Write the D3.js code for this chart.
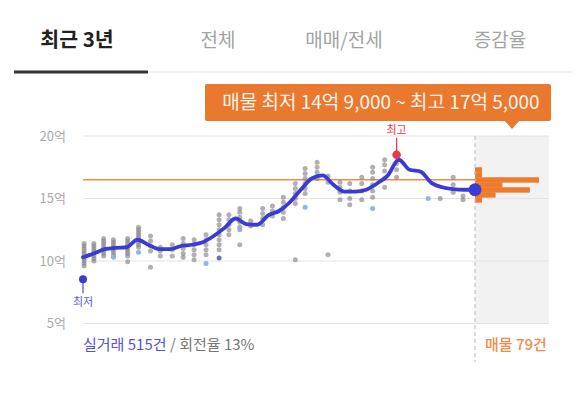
<!DOCTYPE html>
<html><head><meta charset="utf-8">
<script src="https://cdn.jsdelivr.net/npm/d3@7/dist/d3.min.js"></script>
<style>body{margin:0;background:#fff}svg{display:block;font-family:"Noto Sans CJK KR","Noto Sans",sans-serif}</style>
</head><body><svg id="c" width="586" height="398"></svg>
<script>
const tabs = ["최근 3년","전체","매매/전세","증감율"];
const yTicks = [5,10,15,20];
const yTickLabels = ["5억","10억","15억","20억"];
const avgMonths = d3.range(0,37);
const avgPrices = [10.3,10.6,10.95,11.05,11.1,11.7,11.3,10.95,10.95,11.2,11.3,11.5,12.0,12.65,13.4,12.95,12.9,13.65,14.0,14.7,15.7,16.6,16.85,16.1,15.55,15.55,15.7,16.2,16.85,18.1,17.3,17.15,16.25,15.9,15.75,15.7,15.7];
// trades: [month, price, type] type 0 gray, 1 light blue, 2 dark blue
const trades = [
[0.1,11.4,0],[0.1,11.2,0],[0.1,11.0,0],[0.1,10.8,0],[0.1,10.6,0],[0.1,10.4,0],[0.1,10.2,0],[0.1,10.0,0],[0.1,9.8,0],[0.1,9.6,0],
[1.0,11.4,0],[1.0,11.2,0],[1.0,11.0,0],[1.0,10.8,0],[1.0,10.6,0],[1.0,10.4,0],[1.0,10.2,0],[1.0,10.0,0],
[1.9,11.8,0],[1.9,11.6,0],[1.9,11.4,0],[1.9,11.2,0],[1.9,11.0,0],[1.9,10.8,0],[1.9,10.6,0],[1.9,10.4,0],
[2.8,11.7,0],[2.8,11.5,0],[2.8,11.3,0],[2.8,11.1,0],[2.8,10.9,0],[2.8,10.7,0],[2.8,10.5,0],[2.8,10.3,1],
[4.1,11.8,0],[4.1,11.6,0],[4.1,11.4,0],[4.1,11.2,0],[4.1,11.0,0],[4.1,10.8,0],[4.1,10.6,0],[4.1,10.4,0],[4.1,9.95,0],
[5.1,12.7,0],[5.1,12.5,0],[5.1,12.3,0],[5.1,12.1,0],[5.1,11.9,0],[5.1,11.7,0],[5.1,11.5,0],[5.1,11.3,0],[5.1,11.1,0],[5.1,10.7,1],
[6.2,12.0,0],[6.2,11.6,0],[6.2,11.2,0],[6.2,10.8,0],[6.2,9.5,0],
[7.1,11.1,0],[7.1,10.8,0],[7.1,10.4,0],
[8.2,11.3,0],[8.2,10.9,0],[8.2,10.4,0],
[9.2,11.8,0],[9.2,11.4,0],[9.2,11.0,0],[9.2,10.6,0],[9.2,10.3,0],
[10.2,11.7,0],[10.2,11.3,0],[10.2,10.9,0],[10.2,10.5,0],[10.2,10.1,0],
[11.3,12.1,0],[11.3,11.7,0],[11.3,11.3,0],[11.3,10.9,0],[11.3,10.5,0],[11.3,9.8,1],
[12.5,13.7,0],[12.5,13.3,0],[12.5,12.9,0],[12.5,12.5,0],[12.5,12.1,0],[12.5,11.7,0],[12.5,11.3,0],[12.5,10.9,0],[12.5,10.25,2],
[13.4,13.7,0],[13.4,13.3,0],[13.4,12.9,0],[13.4,12.5,0],[13.4,12.1,0],
[14.4,14.2,0],[14.4,13.9,0],[14.4,13.5,0],[14.4,13.1,0],[14.4,12.7,0],[14.4,11.3,0],[14.4,12.5,1],
[15.4,13.2,0],[15.4,12.8,0],
[16.5,14.2,0],[16.5,13.8,0],[16.5,13.4,0],[16.5,12.9,0],
[17.4,14.4,0],[17.4,14.0,0],[17.4,13.6,0],
[18.4,15.1,0],[18.4,14.7,0],[18.4,14.3,0],[18.4,13.9,0],[18.4,13.4,0],
[19.5,16.2,0],[19.5,15.8,0],[19.5,15.4,0],[19.5,15.0,0],[19.5,14.6,0],[19.5,10.1,0],
[20.4,17.4,0],[20.4,17.0,0],[20.4,16.6,0],[20.4,16.2,0],[20.4,15.8,0],[20.4,15.4,0],[20.4,14.3,1],
[21.5,17.9,0],[21.5,17.5,0],[21.5,17.1,0],[21.5,16.6,0],
[22.5,16.8,0],[22.5,16.3,0],[22.5,10.5,0],
[23.6,16.3,0],[23.6,15.9,0],[23.6,15.5,0],[23.6,14.9,0],
[24.5,16.2,0],[24.5,15.6,0],[24.5,15.0,0],[24.5,14.5,0],
[25.6,16.7,0],[25.6,16.2,0],[25.6,15.6,0],[25.6,14.9,0],
[26.6,17.5,0],[26.6,17.1,0],[26.6,16.6,0],[26.6,16.1,0],[26.6,15.6,0],[26.6,15.1,0],[26.6,14.2,1],
[27.7,18.1,0],[27.7,17.7,0],[27.7,17.2,0],[27.7,16.6,0],[27.7,15.9,0],
[28.8,17.8,0],[28.8,17.3,0],[28.8,16.7,0],
[31.7,15.0,1],[32.8,15.0,0],
[34.0,16.7,0],[34.0,16.1,0],[34.0,15.5,0],
[34.9,15.2,0],[34.9,14.9,0]
];
const minTrade = [0.0, 8.55];
const maxTrade = [28.8, 18.5];
const listingAvg = 16.5;
const binLows = [17.1,16.7,16.3,15.9,15.5,15.1,14.7];
const binCounts = [2,3,28,12,24,9,1];
const tooltipText = "매물 최저 14억 9,000 ~ 최고 17억 5,000";
const tradeText = "실거래 515건";
const turnoverText = " / 회전율 13%";
const listingText = "매물 79건";

const svg = d3.select("#c");
const x = d3.scaleLinear().domain([0,36]).range([83,475]);
const y = d3.scaleLinear().domain([5,20]).range([323.5,136]);
const hw = d3.scaleLinear().domain([0,28]).range([0,64]);

// tabs
const tabX = [77,218,344,500];
svg.selectAll("text.tab").data(tabs).join("text").attr("class","tab")
  .attr("x",(d,i)=>tabX[i]).attr("y",47).attr("text-anchor","middle")
  .attr("font-size",(d,i)=>i===0?20.5:19).attr("font-weight",(d,i)=>i===0?700:400)
  .attr("fill",(d,i)=>i===0?"#222":"#a3a3a3").text(d=>d);
svg.append("rect").attr("x",14).attr("y",71.5).attr("width",558).attr("height",1).attr("fill","#e6e6e6");
svg.append("rect").attr("x",14).attr("y",70.5).attr("width",134).attr("height",3).attr("fill","#333");

// gray forecast area
svg.append("rect").attr("x",x(36)).attr("y",y(20)).attr("width",549-x(36)).attr("height",y(5)-y(20)).attr("fill","#f2f2f2");

// gridlines
svg.selectAll("line.grid").data(yTicks).join("line").attr("class","grid")
  .attr("x1",83).attr("x2",549).attr("y1",d=>y(d)).attr("y2",d=>y(d))
  .attr("stroke","#e3e3e3").attr("stroke-width",1);
svg.selectAll("text.yl").data(yTicks).join("text").attr("class","yl")
  .attr("x",66).attr("y",d=>y(d)+4.5).attr("text-anchor","end")
  .attr("font-size",13).attr("fill","#aaa").text((d,i)=>yTickLabels[i]);

// histogram
svg.selectAll("rect.hb").data(binLows).join("rect").attr("class","hb")
  .attr("x",x(36)).attr("y",d=>y(d+0.4)).attr("width",(d,i)=>Math.max(7,hw(binCounts[i])))
  .attr("height",d=>y(d)-y(d+0.4)+0.4).attr("fill","#ee7a2b");

// dashed divider
svg.append("line").attr("x1",x(36)).attr("x2",x(36)).attr("y1",y(20)).attr("y2",362)
  .attr("stroke","#c4c4c4").attr("stroke-width",1.2).attr("stroke-dasharray","4,3");

// listing avg line
svg.append("line").attr("x1",83).attr("x2",x(36)).attr("y1",y(listingAvg)).attr("y2",y(listingAvg))
  .attr("stroke","#f0894a").attr("stroke-width",1.6);

// trades
const tc = ["#858585","#86aee0","#5569a0"];
svg.selectAll("circle.tr").data(trades).join("circle").attr("class","tr")
  .attr("cx",d=>x(d[0])).attr("cy",d=>y(d[1])).attr("r",2.5)
  .attr("fill",d=>tc[d[2]]).attr("fill-opacity",d=>d[2]===0?0.65:0.9);

// average line
const line = d3.line().x((d,i)=>x(avgMonths[i])).y(d=>y(d)).curve(d3.curveMonotoneX);
svg.append("path").datum(avgPrices).attr("d",line).attr("fill","none")
  .attr("stroke","#3a3ad6").attr("stroke-width",3.8).attr("stroke-linejoin","round").attr("stroke-linecap","round");
svg.append("circle").attr("cx",x(36)).attr("cy",y(avgPrices[36])).attr("r",6.5).attr("fill","#3a3ad6");

// min marker
svg.append("line").attr("x1",x(minTrade[0])).attr("x2",x(minTrade[0])).attr("y1",y(minTrade[1])).attr("y2",y(minTrade[1])+14)
  .attr("stroke","#5a5ad8").attr("stroke-width",1.3);
svg.append("circle").attr("cx",x(minTrade[0])).attr("cy",y(minTrade[1])).attr("r",4).attr("fill","#3a3ad6");
svg.append("text").attr("x",x(minTrade[0])).attr("y",y(minTrade[1])+27).attr("text-anchor","middle")
  .attr("font-size",11).attr("fill","#5a5ad8").text("최저");
// max marker
svg.append("line").attr("x1",x(maxTrade[0])).attr("x2",x(maxTrade[0])).attr("y1",y(maxTrade[1])).attr("y2",y(maxTrade[1])-17)
  .attr("stroke","#e8384f").attr("stroke-width",1.3);
svg.append("circle").attr("cx",x(maxTrade[0])).attr("cy",y(maxTrade[1])).attr("r",4.3).attr("fill","#e8384f");
svg.append("text").attr("x",x(maxTrade[0])).attr("y",y(maxTrade[1])-21).attr("text-anchor","middle")
  .attr("font-size",11).attr("fill","#e8384f").text("최고");

// tooltip
const tip = svg.append("g");
tip.append("rect").attr("x",205).attr("y",84).attr("width",346).attr("height",37).attr("rx",2).attr("fill","#ea782e");
tip.append("path").attr("d","M504,120 L512,129 L520,120 Z").attr("fill","#ea782e");
tip.append("text").attr("x",381).attr("y",109).attr("text-anchor","middle").attr("font-size",19)
  .attr("fill","#fff4ec").text(tooltipText);

// bottom labels
const bt = svg.append("text").attr("x",83).attr("y",350).attr("font-size",15);
bt.append("tspan").attr("fill","#5252dc").text(tradeText);
bt.append("tspan").attr("fill","#777").text(turnoverText);
svg.append("text").attr("x",485).attr("y",350).attr("font-size",15).attr("font-weight",500).attr("fill","#f08c4a").text(listingText);
</script></body></html>
